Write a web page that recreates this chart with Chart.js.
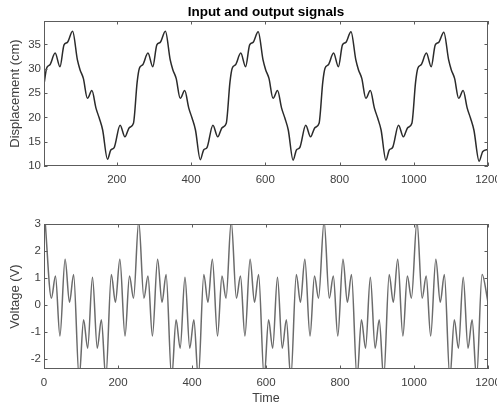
<!DOCTYPE html>
<html>
<head>
<meta charset="utf-8">
<script src="https://cdn.jsdelivr.net/npm/chart.js@4"></script>
<style>
  html, body { margin: 0; padding: 0; background: #fff; overflow: hidden; }
  #wrap { position: relative; width: 497px; height: 407px; overflow: hidden; }
  canvas { position: absolute; left: 0; }
  #top { top: 0; }
  #bottom { top: 200px; }
</style>
</head>
<body>
<div id="wrap">
  <canvas id="top" width="532" height="200"></canvas>
  <canvas id="bottom" width="532" height="207"></canvas>
</div>
<script>
// Input signal (displacement) at its turning points
const inputTime = [
  5, 11, 20, 34, 47, 58, 67, 81, 94, 101, 110, 121, 133, 144, 153, 162, 175, 184, 193, 209, 222, 234, 245,
  255, 261, 270, 284, 297, 308, 317, 331, 344, 351, 360, 371, 383, 394, 403, 412, 425, 434, 443, 459, 472, 484, 495,
  505, 511, 520, 534, 547, 558, 567, 581, 594, 601, 610, 621, 633, 644, 653, 662, 675, 684, 693, 709, 722, 734, 745,
  755, 761, 770, 784, 797, 808, 817, 831, 844, 851, 860, 871, 883, 894, 903, 912, 925, 934, 943, 959, 972, 984, 995,
  1005, 1011, 1020, 1034, 1047, 1058, 1067, 1081, 1094, 1101, 1110, 1121, 1133, 1144, 1153, 1162, 1176, 1186, 1200
];
const displacement = [
  27.3, 30.1, 30.8, 33.2, 30.4, 34.9, 35.4, 37.7, 31.8, 29.8, 28.0, 23.9, 25.5, 21.9, 19.8, 17.4, 11.4, 13.3, 13.8, 18.4, 16.0, 17.9, 18.8,
  27.3, 30.1, 30.8, 33.2, 30.4, 34.9, 35.4, 37.7, 31.8, 29.8, 28.0, 23.9, 25.5, 21.9, 19.8, 17.4, 11.3, 13.3, 13.8, 18.4, 16.0, 17.9, 18.8,
  27.3, 30.1, 30.8, 33.2, 30.4, 34.9, 35.4, 37.6, 31.8, 29.8, 28.0, 23.9, 25.5, 21.9, 19.8, 17.4, 11.2, 13.3, 13.8, 18.4, 16.0, 17.9, 18.8,
  27.3, 30.1, 30.8, 33.2, 30.4, 34.9, 35.4, 37.6, 31.8, 29.8, 28.0, 23.9, 25.5, 21.9, 19.8, 17.4, 11.2, 13.3, 13.8, 18.4, 16.0, 17.9, 18.8,
  27.3, 30.1, 30.8, 33.2, 30.4, 34.9, 35.4, 37.5, 31.8, 29.8, 28.0, 23.9, 25.5, 21.9, 19.8, 17.4, 11.0, 13.0, 13.4
];

// Output signal (voltage)
const outputTime = [
  3, 20, 31, 43, 57, 69, 80, 95, 107, 118, 131, 144, 155, 167, 182, 193, 205, 219, 231, 242,
  256, 270, 281, 293, 307, 319, 330, 345, 357, 368, 381, 394, 405, 417, 432, 443, 455, 469, 481, 492,
  506, 520, 531, 543, 557, 569, 580, 595, 607, 618, 631, 644, 655, 667, 682, 693, 705, 719, 731, 742,
  757, 771, 782, 794, 808, 820, 831, 846, 858, 869, 882, 895, 906, 918, 933, 944, 956, 970, 982, 993,
  1008, 1022, 1033, 1045, 1059, 1071, 1082, 1097, 1109, 1120, 1133, 1146, 1157, 1169, 1184, 1200
];
const voltage = [
  3.1, 0.25, 1.07, -1.15, 1.69, 0.1, 1.13, -2.7, -0.55, -1.6, 1.03, -1.6, -0.55, -2.7, 1.13, 0.1, 1.69, -1.15, 1.07, 0.25,
  3.1, 0.25, 1.07, -1.15, 1.69, 0.1, 1.13, -2.7, -0.55, -1.6, 1.03, -1.6, -0.55, -2.7, 1.13, 0.1, 1.69, -1.15, 1.07, 0.25,
  3.1, 0.25, 1.07, -1.15, 1.69, 0.1, 1.13, -2.7, -0.55, -1.6, 1.03, -1.6, -0.55, -2.7, 1.13, 0.1, 1.69, -1.15, 1.07, 0.25,
  3.1, 0.25, 1.07, -1.15, 1.69, 0.1, 1.13, -2.7, -0.55, -1.6, 1.03, -1.6, -0.55, -2.7, 1.13, 0.1, 1.69, -1.15, 1.07, 0.25,
  3.1, 0.25, 1.07, -1.15, 1.69, 0.1, 1.13, -2.7, -0.55, -1.6, 1.03, -1.6, -0.55, -2.7, 1.13, 0.1
];

// tick labels
const timeTicksTop = [200, 400, 600, 800, 1000, 1200];
const timeTicksBottom = [0, 200, 400, 600, 800, 1000, 1200];
const displacementTicks = [10, 15, 20, 25, 30, 35];
const voltageTicks = [-2, -1, 0, 1, 2, 3];

const FONT = "'Liberation Sans', Arial, Helvetica, sans-serif";
const GREY = '#404040';

// box round the plot area with small inward ticks on all four sides, like matlab
const boxTicks = {
  id: 'boxTicks',
  afterDraw(chart) {
    const { ctx, chartArea: a, scales } = chart;
    const len = 3.5;
    ctx.save();
    ctx.strokeStyle = '#5c5c5c';
    ctx.lineWidth = 1;
    ctx.beginPath();
    scales.x.ticks.forEach(t => {
      const px = Math.round(scales.x.getPixelForValue(t.value)) + 0.5;
      ctx.moveTo(px, a.bottom); ctx.lineTo(px, a.bottom - len);
      ctx.moveTo(px, a.top); ctx.lineTo(px, a.top + len);
    });
    scales.y.ticks.forEach(t => {
      const py = Math.round(scales.y.getPixelForValue(t.value)) + 0.5;
      ctx.moveTo(a.left, py); ctx.lineTo(a.left + len, py);
      ctx.moveTo(a.right, py); ctx.lineTo(a.right - len, py);
    });
    ctx.stroke();
    ctx.strokeRect(Math.round(a.left) + 0.5, Math.round(a.top) + 0.5,
      Math.round(a.width) - 1, Math.round(a.height) - 1);
    ctx.restore();
  }
};

function makeChart(id, times, values, opts) {
  const points = times.map((t, i) => ({ x: t, y: values[i] }));
  return new Chart(document.getElementById(id), {
    type: 'line',
    data: {
      datasets: [{
        data: points,
        borderColor: opts.lineColor,
        borderWidth: 1.5,
        pointRadius: 0,
        cubicInterpolationMode: 'monotone',
        fill: false
      }]
    },
    options: {
      responsive: false,
      animation: false,
      devicePixelRatio: 1,
      layout: { padding: { left: 0, right: 44, top: opts.padTop, bottom: 0 } },
      plugins: {
        legend: { display: false },
        tooltip: { enabled: false },
        title: opts.title ? {
          display: true,
          fullSize: false,
          text: opts.title,
          color: '#000',
          font: { family: FONT, size: 13.5, weight: 'bold' },
          padding: { top: 4, bottom: 0.8 }
        } : { display: false }
      },
      scales: {
        x: {
          type: 'linear',
          min: opts.xMin,
          max: 1200,
          grid: { display: false, drawTicks: false },
          border: { display: false },
          ticks: {
            color: GREY, padding: 7, maxRotation: 0,
            font: { family: FONT, size: 11.5 },
            callback: v => String(v)
          },
          afterBuildTicks: s => { s.ticks = opts.xTicks.map(v => ({ value: v })); },
          afterFit: s => { s.height = opts.xHeight; },
          title: opts.xTitle ? {
            display: true, text: opts.xTitle, color: GREY,
            font: { family: FONT, size: 12.5 },
            padding: { top: 0, bottom: 0.5 }
          } : { display: false }
        },
        y: {
          type: 'linear',
          min: opts.yMin,
          max: opts.yMax,
          grid: { display: false, drawTicks: false },
          border: { display: false },
          ticks: {
            color: GREY, padding: 3,
            font: { family: FONT, size: 11.5 },
            callback: v => String(v)
          },
          afterBuildTicks: s => { s.ticks = opts.yTicks.map(v => ({ value: v })); },
          afterFit: s => { s.width = 44; },
          title: {
            display: true, text: opts.yTitle, color: GREY,
            font: { family: FONT, size: 13 },
            padding: { top: 8, bottom: 0 }
          }
        }
      }
    },
    plugins: [boxTicks]
  });
}

makeChart('top', inputTime, displacement, {
  title: 'Input and output signals',
  padTop: 0,
  lineColor: '#2b2b2b',
  xMin: 4, xTicks: timeTicksTop, xHeight: 34,
  yMin: 10, yMax: 39.8, yTicks: displacementTicks,
  yTitle: 'Displacement (cm)'
});

makeChart('bottom', outputTime, voltage, {
  padTop: 24,
  lineColor: '#6b6b6b',
  xMin: 0, xTicks: timeTicksBottom, xHeight: 38, xTitle: 'Time',
  yMin: -2.37, yMax: 3, yTicks: voltageTicks,
  yTitle: 'Voltage (V)'
});
</script>
</body>
</html>
